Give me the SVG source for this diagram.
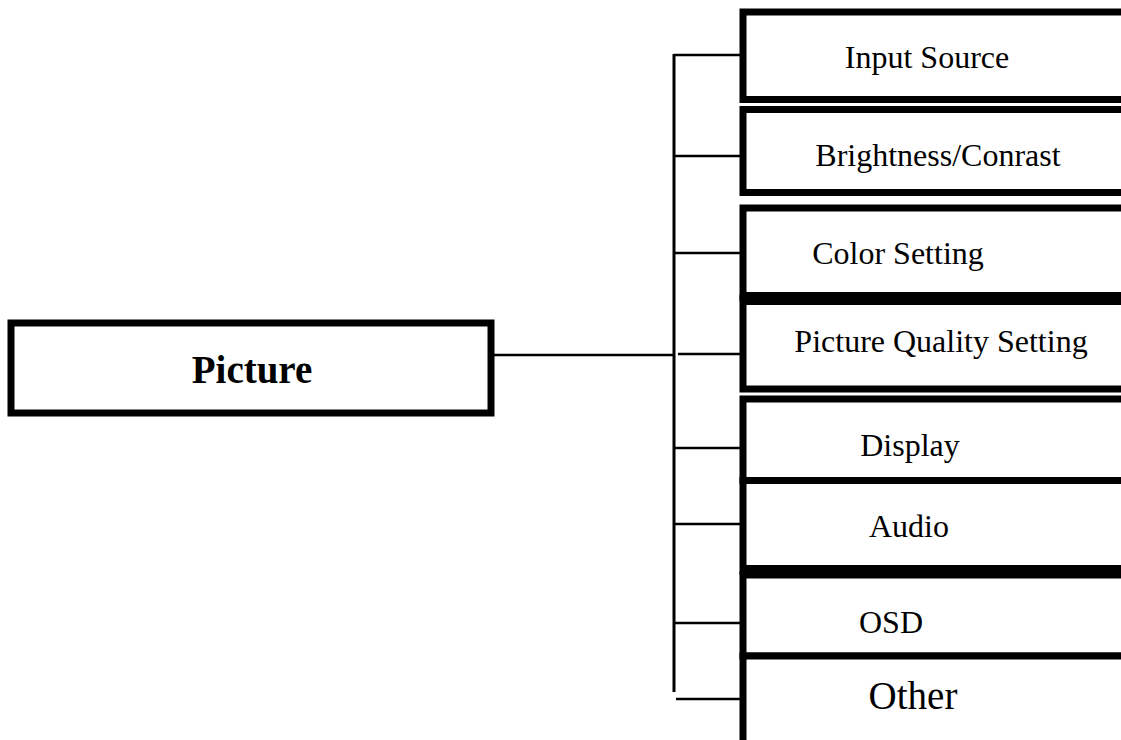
<svg xmlns="http://www.w3.org/2000/svg" width="1121" height="740" viewBox="0 0 1121 740">
<style>
.box{fill:#fff;stroke:#000;stroke-width:7}
.t{font-family:"Liberation Serif",serif;font-size:32px;fill:#000;text-anchor:middle}
.c{stroke:#000;stroke-width:2.5;fill:none}
.band{fill:#000}
</style>
<rect width="1121" height="740" fill="#fff"/>
<g id="connectors">
<line class="c" x1="494" y1="355" x2="674" y2="355"/>
<line class="c" x1="674" y1="54" x2="674" y2="692" style="stroke-width:3"/>
<line class="c" x1="674" y1="55" x2="742" y2="55"/>
<line class="c" x1="674" y1="156" x2="742" y2="156"/>
<line class="c" x1="674" y1="253" x2="742" y2="253"/>
<line class="c" x1="678" y1="354" x2="742" y2="354"/>
<line class="c" x1="674" y1="448" x2="742" y2="448"/>
<line class="c" x1="674" y1="524" x2="742" y2="524"/>
<line class="c" x1="674" y1="623" x2="742" y2="623"/>
<line class="c" x1="676" y1="699" x2="742" y2="699"/>
</g>
<g id="picture">
<rect class="box" x="11" y="323" width="480" height="90"/>
<text class="t" x="252" y="383" style="font-weight:bold;font-size:39px">Picture</text>
</g>
<g id="input-source">
<rect class="box" x="743" y="12" width="400" height="87.5"/>
<text class="t" x="927" y="68">Input Source</text>
</g>
<g id="brightness">
<rect class="box" x="743" y="109.5" width="400" height="83"/>
<text class="t" x="938" y="166">Brightness/Conrast</text>
</g>
<g id="color-setting">
<rect class="box" x="743" y="208" width="400" height="90"/>
<text class="t" x="898" y="264">Color Setting</text>
</g>
<g id="picture-quality">
<rect class="box" x="743" y="298" width="400" height="91"/>
<rect class="band" x="740" y="292" width="400" height="13"/>
<text class="t" x="941" y="352">Picture Quality Setting</text>
</g>
<g id="display">
<rect class="box" x="743" y="399" width="400" height="81.5"/>
<text class="t" x="910" y="456">Display</text>
</g>
<g id="audio">
<rect class="box" x="743" y="480.5" width="400" height="91"/>
<rect class="band" x="740" y="565" width="400" height="13"/>
<text class="t" x="909" y="537">Audio</text>
</g>
<g id="osd">
<rect class="box" x="743" y="575" width="400" height="81"/>
<text class="t" x="891" y="633">OSD</text>
</g>
<g id="other">
<rect class="box" x="743" y="656" width="400" height="120"/>
<text class="t" x="913" y="709" style="font-size:39px">Other</text>
</g>
</svg>
